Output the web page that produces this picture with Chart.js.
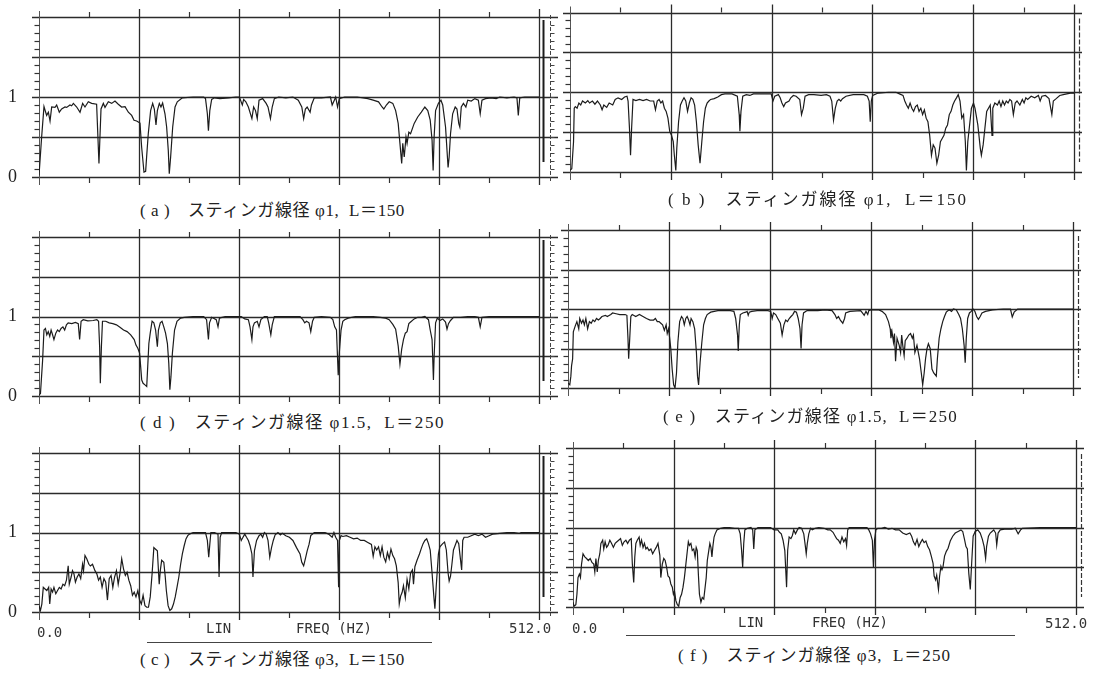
<!DOCTYPE html>
<html><head><meta charset="utf-8">
<script src="https://cdn.jsdelivr.net/npm/chart.js@4/dist/chart.umd.min.js"></script>
<style>
html,body{margin:0;padding:0;background:#fff}
body{width:1099px;height:674px;position:relative;overflow:hidden}
canvas{position:absolute}
.cap{position:absolute;white-space:pre;font:17px "Liberation Serif","Noto Sans CJK JP",serif;color:#222;line-height:22px;letter-spacing:0.6px}
.mono{position:absolute;white-space:pre;font:14px "DejaVu Sans Mono",monospace;color:#333;line-height:16px}
.uline{position:absolute;border-top:1px solid #444;height:0}
</style></head><body>
<script>
// ---------- data (frequency in Hz, coherence 0..1) ----------
const freqA=[0,2.7,5.1,7.8,9.6,11.3,13.0,16.4,18.1,20.8,
23.2,26.6,28.3,31.7,33.4,35.2,38.6,42.0,44.7,47.1,
50.5,53.9,59.0,61.4,63.5,65.9,67.6,71.0,74.4,77.8,
81.2,84.6,88.1,91.5,94.9,97.3,100.0,103.4,105.1,107.5,
109.2,110.2,111.9,114.3,116.4,118.1,119.8,121.2,123.2,124.9,
126.6,129.0,130.7,132.4,133.4,134.8,136.9,139.3,141.6,146.8,
157.8,168.7,170.5,172.4,173.5,174.9,176.8,179.7,185.2,194.3,
201.6,205.2,208.2,209.6,211.8,214.4,218.0,219.8,221.7,223.5,
225.3,229.0,232.6,234.5,237.0,238.8,241.0,245.4,252.7,260.0,
265.5,269.1,271.0,272.8,274.6,277.6,279.0,281.9,289.2,298.4,
300.2,302.4,303.8,305.7,307.5,313.0,325.8,336.7,342.2,347.7,
351.3,353.1,355.7,358.6,362.3,365.2,367.8,369.6,371.4,372.5,
374.0,375.8,376.9,378.7,380.5,384.2,387.8,391.5,395.1,398.1,
400.6,402.5,403.6,404.6,406.1,409.0,411.6,413.4,416.3,418.9,
420.0,421.4,423.6,426.2,428.0,429.8,430.9,432.4,434.6,437.1,
439.0,442.6,446.3,449.9,451.8,453.6,457.2,462.7,468.2,471.8,
479.1,486.4,489.4,490.8,492.3,497.4,501.1,508.4,512];
const cohA=[0.02,0.5,0.88,0.77,0.81,0.70,0.875,0.87,0.90,0.81,
0.85,0.875,0.87,0.90,0.89,0.92,0.875,0.81,0.92,0.875,
0.94,0.92,0.91,0.17,0.85,0.92,0.87,0.94,0.92,0.95,
0.91,0.875,0.88,0.81,0.77,0.71,0.70,0.675,0.375,0.06,
0.07,0.25,0.54,0.83,0.92,0.85,0.65,0.83,0.92,0.875,
0.925,0.79,0.625,0.33,0.04,0.25,0.625,0.875,0.94,0.99,
1.0,1.0,0.98,0.79,0.58,0.83,0.97,0.99,0.98,0.99,
1.0,1.0,0.9,0.97,0.94,0.875,0.73,0.875,0.83,0.73,
0.96,0.98,0.92,0.875,0.73,0.875,0.98,1.0,0.99,1.0,
0.96,0.875,0.73,0.85,0.875,0.81,0.9,0.99,0.99,1.0,
0.9,0.96,1.0,0.875,0.98,1.0,1.0,0.98,0.96,0.94,
0.875,0.85,0.9,0.94,0.92,0.83,0.67,0.42,0.17,0.42,
0.25,0.5,0.42,0.56,0.54,0.67,0.75,0.81,0.875,0.83,
0.71,0.46,0.08,0.5,0.83,0.92,0.96,0.9,0.625,0.12,
0.25,0.54,0.79,0.875,0.85,0.67,0.625,0.875,0.92,0.875,
0.96,0.95,0.98,0.96,0.79,0.96,0.98,0.99,0.98,1.0,
0.99,1.0,0.99,0.77,0.99,1.0,1.0,1.0,1.0];

const freqB=[0,1.8,3.6,4.3,5.4,7.2,9.0,10.9,12.7,15.6,
18.1,19.9,22.8,25.3,27.9,30.8,32.6,34.4,37.3,39.8,
43.4,45.9,48.8,52.5,55.4,57.9,59.0,60.4,61.5,62.6,
64.0,66.9,70.6,74.2,77.8,81.4,85.0,86.8,88.6,90.5,
92.3,94.1,95.9,97.7,99.5,101.3,103.1,104.9,106.0,107.5,
108.5,110.3,112.2,114.0,115.8,117.6,119.4,121.2,123.0,124.8,
126.6,128.4,130.2,132.1,133.9,135.7,137.5,139.3,141.1,142.9,
146.5,150.1,153.8,157.4,164.6,170.0,171.9,172.6,173.7,175.5,
179.1,182.7,186.3,193.6,200.8,204.4,206.2,208.0,211.7,213.5,
215.3,217.1,218.9,222.5,224.3,226.9,229.7,233.4,235.2,237.0,
238.8,242.4,247.8,255.1,260.5,264.1,265.9,267.7,269.5,271.4,
273.2,275.0,276.8,280.4,287.6,298.5,302.1,303.9,305.0,306.1,
307.5,313.0,323.8,331.1,334.7,338.3,340.1,341.9,343.7,345.5,
347.3,349.1,351.0,352.8,354.6,356.4,358.2,360.0,361.8,363.6,
365.4,367.2,369.0,370.8,372.7,374.5,376.3,378.1,379.9,381.7,
383.5,385.3,387.1,388.9,390.7,392.6,394.4,396.2,398.0,399.8,
401.6,402.7,404.1,406.3,407.8,409.9,411.4,414.3,416.8,417.9,
419.7,421.5,423.3,425.1,426.9,428.7,429.5,431.6,434.2,436.0,
437.8,439.6,441.4,443.2,445.0,446.8,448.6,450.4,452.3,454.1,
457.0,459.5,461.3,463.1,464.9,468.5,472.1,475.8,477.6,479.4,
483.0,486.6,489.5,491.0,493.9,497.5,501.1,504.7,508.3,512];
const cohB=[0.02,0.04,0.38,0.80,0.82,0.80,0.865,0.84,0.89,0.865,
0.895,0.865,0.89,0.85,0.89,0.84,0.78,0.84,0.81,0.865,
0.84,0.91,0.93,0.91,0.94,0.95,0.89,0.55,0.21,0.55,
0.91,0.895,0.91,0.895,0.91,0.89,0.89,0.78,0.89,0.91,
0.865,0.89,0.80,0.76,0.675,0.51,0.46,0.38,0.21,0.02,
0.30,0.63,0.84,0.89,0.93,0.89,0.76,0.865,0.93,0.91,
0.84,0.63,0.34,0.11,0.38,0.63,0.80,0.865,0.89,0.91,
0.92,0.94,0.97,0.98,0.98,0.95,0.72,0.51,0.76,0.95,
0.97,0.96,0.98,0.98,0.98,0.98,0.89,0.95,0.97,0.93,
0.865,0.82,0.865,0.89,0.93,0.96,0.95,0.91,0.72,0.80,
0.95,0.97,0.97,0.96,0.97,0.95,0.89,0.65,0.80,0.89,
0.91,0.89,0.92,0.95,0.97,0.97,0.95,0.89,0.63,0.89,
0.96,0.99,1.0,1.0,0.98,0.96,0.89,0.84,0.80,0.865,
0.80,0.76,0.82,0.84,0.76,0.80,0.72,0.78,0.675,0.63,
0.46,0.21,0.34,0.30,0.11,0.21,0.38,0.42,0.46,0.55,
0.59,0.72,0.76,0.84,0.89,0.93,0.97,0.89,0.675,0.72,
0.38,0.02,0.38,0.63,0.80,0.865,0.80,0.59,0.30,0.21,
0.34,0.55,0.76,0.80,0.84,0.46,0.80,0.865,0.84,0.89,
0.82,0.89,0.84,0.89,0.865,0.91,0.89,0.72,0.865,0.89,
0.84,0.91,0.865,0.93,0.91,0.95,0.93,0.96,0.89,0.95,
0.96,0.92,0.72,0.89,0.92,0.96,0.97,0.98,0.99,0.99];

const freqD=[0,1.5,3.7,5.1,6.6,8.0,9.5,11.0,12.4,13.9,
15.3,17.2,19.0,20.8,22.6,24.5,26.3,28.1,29.9,33.6,
37.3,40.2,41.6,43.1,45.3,50.0,55.5,59.2,61.0,62.1,
62.8,63.9,65.0,68.3,71.9,75.6,79.3,82.9,86.6,90.2,
93.9,97.5,99.3,101.2,103.0,104.1,105.2,106.6,108.5,110.3,
111.0,112.5,113.9,115.8,117.6,119.4,121.2,122.3,124.2,126.0,
127.8,129.6,131.5,132.9,134.0,135.1,136.6,138.8,141.3,145.0,
148.6,157.8,168.7,171.6,173.5,174.6,176.8,181.5,183.3,184.8,
190.6,201.6,207.1,210.7,214.4,216.1,218.0,219.1,220.6,223.5,
225.3,227.2,230.8,233.7,235.2,237.4,238.8,241.0,249.1,260.0,
267.3,270.2,272.1,273.9,276.5,278.3,280.1,281.9,289.2,298.4,
300.9,302.8,304.6,306.4,307.5,309.3,311.1,313.0,316.6,323.9,
333.1,342.2,349.5,355.0,358.6,362.3,365.2,367.8,369.6,371.4,
373.2,375.1,376.9,378.7,380.5,384.2,387.8,391.5,395.1,398.8,
400.6,402.5,403.9,404.6,406.1,407.9,410.5,413.4,416.3,417.8,
419.3,421.4,424.4,431.7,439.0,446.3,449.9,451.8,453.6,460.9,
471.8,490.1,508.4,512];
const cohD=[0.01,0.03,0.45,0.83,0.85,0.77,0.81,0.75,0.83,0.77,
0.71,0.79,0.83,0.81,0.85,0.87,0.83,0.895,0.92,0.91,
0.925,0.91,0.71,0.94,0.96,0.945,0.95,0.96,0.94,0.62,
0.16,0.62,0.94,0.94,0.92,0.91,0.895,0.865,0.83,0.81,
0.77,0.71,0.64,0.60,0.54,0.37,0.2,0.16,0.14,0.12,
0.29,0.66,0.79,0.94,0.92,0.83,0.62,0.83,0.92,0.94,
0.87,0.79,0.66,0.41,0.08,0.24,0.54,0.83,0.94,0.98,
0.99,1.0,1.0,0.96,0.71,0.92,0.99,0.96,0.87,0.98,
1.0,1.0,1.0,0.97,0.96,0.87,0.71,0.87,0.92,0.94,
0.87,0.96,1.0,1.0,0.92,0.77,0.895,1.0,1.0,1.0,
1.0,0.96,0.92,0.94,0.92,0.81,0.94,0.99,1.0,0.99,
0.96,0.87,0.83,0.26,0.54,0.83,0.94,0.96,0.98,1.0,
1.0,1.0,0.99,0.98,0.96,0.90,0.84,0.63,0.40,0.59,
0.71,0.79,0.81,0.91,0.93,0.97,0.99,0.99,1.0,0.96,
0.83,0.71,0.20,0.50,0.92,0.98,0.95,0.97,0.93,0.84,
0.91,0.95,0.99,0.99,1.0,1.0,0.99,0.87,0.99,1.0,
1.0,1.0,1.0,1.0];

const freqE=[0,1.8,2.9,3.6,4.7,5.4,7.2,9.0,10.9,11.9,
13.7,15.2,16.6,18.1,19.9,21.7,23.5,25.3,27.1,28.9,
30.8,32.6,34.4,38.0,39.8,43.4,45.2,48.8,52.5,57.9,
59.7,60.8,61.5,62.6,63.7,65.1,68.7,72.4,76.0,79.6,
83.2,86.8,88.6,90.5,92.3,94.1,95.9,97.7,99.5,100.6,
102.0,103.1,104.2,105.6,107.1,108.5,110.0,111.4,113.2,115.1,
116.5,117.9,119.4,120.8,122.3,123.7,124.8,126.6,128.4,130.2,
131.3,132.4,133.9,135.7,137.5,139.3,141.1,144.7,148.3,152.0,
155.6,159.2,164.6,168.2,170.0,171.9,172.6,173.7,174.7,177.3,
180.2,181.6,182.7,183.8,186.3,191.8,202.6,205.5,207.0,208.4,
210.6,212.7,215.3,217.1,218.9,220.7,222.5,224.3,226.1,227.9,
229.7,231.6,233.4,235.2,236.3,237.3,238.8,242.4,253.3,260.5,
267.7,270.6,272.4,274.2,276.1,278.6,280.4,281.5,285.8,296.7,
298.5,300.3,302.1,303.9,305.0,307.5,314.8,318.4,322.0,324.9,
326.7,327.4,328.5,330.0,331.0,332.1,333.6,335.8,337.2,338.3,
339.4,340.8,341.9,343.7,345.5,347.3,349.1,350.2,351.7,353.8,
356.4,358.2,359.6,361.1,362.5,364.0,365.4,367.2,369.0,370.8,
373.4,374.5,376.3,378.1,379.9,381.7,383.5,386.4,388.9,390.7,
393.6,396.2,398.0,399.8,401.6,402.7,403.8,405.2,407.0,408.8,
410.6,412.5,414.3,416.1,417.9,419.7,423.3,430.5,441.4,448.6,
450.4,452.3,455.9,477.6,512];
const cohE=[0.06,0.04,0.15,0.28,0.37,0.71,0.78,0.84,0.75,0.88,
0.82,0.86,0.80,0.88,0.75,0.84,0.82,0.86,0.84,0.88,
0.86,0.88,0.905,0.92,0.905,0.93,0.95,0.94,0.93,0.93,
0.92,0.63,0.37,0.63,0.905,0.93,0.905,0.93,0.905,0.88,
0.86,0.86,0.88,0.84,0.84,0.82,0.80,0.73,0.80,0.69,
0.75,0.63,0.50,0.24,0.04,0.0,0.19,0.58,0.84,0.905,
0.88,0.80,0.88,0.905,0.86,0.80,0.88,0.84,0.75,0.45,
0.15,0.04,0.32,0.58,0.80,0.88,0.93,0.96,0.97,0.98,
0.98,0.98,0.98,0.97,0.88,0.67,0.47,0.80,0.93,0.95,
0.96,0.97,0.92,0.96,0.97,0.98,0.98,0.97,0.88,0.95,
0.93,0.88,0.82,0.67,0.80,0.86,0.84,0.88,0.905,0.93,
0.97,0.96,0.88,0.75,0.50,0.80,0.95,0.98,0.98,0.99,
0.98,0.93,0.88,0.905,0.86,0.82,0.88,0.95,0.97,0.98,
0.95,0.92,0.97,0.93,0.98,0.99,0.99,0.97,0.93,0.84,
0.75,0.63,0.71,0.58,0.69,0.34,0.63,0.54,0.45,0.67,
0.54,0.41,0.60,0.63,0.67,0.69,0.63,0.67,0.45,0.54,
0.37,0.19,0.04,0.19,0.37,0.50,0.56,0.50,0.24,0.19,
0.15,0.37,0.63,0.75,0.84,0.905,0.96,0.99,0.97,1.0,
0.99,0.93,0.88,0.75,0.54,0.32,0.63,0.88,0.95,0.97,
1.0,0.97,0.905,0.87,0.905,0.95,0.97,0.99,1.0,1.0,
0.90,0.96,1.0,1.0,1.0];

const freqC=[0,1.5,2.9,4.4,6.2,8.0,9.9,11.0,12.4,13.9,
15.3,17.2,19.0,20.8,22.6,24.5,26.3,28.1,29.9,31.0,
32.9,34.3,35.8,37.3,39.1,40.9,42.7,44.6,45.6,47.1,
48.9,51.1,52.6,54.8,57.3,59.2,61.0,62.8,64.6,66.5,
68.3,70.1,71.9,73.8,75.6,77.4,79.3,81.1,82.9,84.7,
86.6,88.4,90.2,92.0,93.9,95.7,97.5,99.3,101.2,103.0,
104.8,106.6,108.5,110.3,112.1,113.9,115.8,117.6,119.4,121.2,
123.1,124.2,125.6,127.8,129.3,130.4,132.2,134.0,135.9,137.7,
139.5,141.3,143.2,145.0,146.8,148.6,150.5,152.3,154.1,157.8,
161.4,166.9,170.5,172.4,173.8,174.9,176.0,179.7,183.3,184.4,
185.5,187.0,194.3,201.6,205.2,207.1,208.9,210.7,212.5,214.4,
216.2,218.0,219.1,220.6,222.8,225.3,227.2,229.0,230.8,232.6,
234.5,236.3,238.1,239.9,241.8,244.7,247.2,249.1,252.7,256.4,
260.0,263.7,267.3,269.1,271.0,272.8,274.6,276.5,278.3,281.9,
285.6,289.2,292.9,296.5,300.2,302.0,303.8,305.7,306.8,307.5,
309.3,311.1,314.8,318.5,322.1,325.8,329.4,333.1,336.7,340.4,
342.2,344.0,345.8,347.7,349.5,351.3,353.1,355.0,356.8,358.6,
360.4,362.3,364.1,365.9,367.8,368.9,370.3,371.8,373.2,375.1,
376.9,378.7,380.5,382.4,383.5,384.9,387.1,389.6,391.5,393.3,
395.1,397.0,398.8,400.6,402.5,404.3,405.4,406.8,409.0,410.5,
413.4,415.3,417.1,418.9,420.0,421.4,422.9,424.4,426.2,428.0,
429.8,431.7,432.8,433.9,435.3,439.0,442.6,446.3,449.9,453.6,
457.2,460.9,464.5,471.8,479.1,486.4,491.9,493.7,501.0,512];
const cohC=[0.08,0.02,0.10,0.31,0.29,0.27,0.31,0.10,0.29,0.25,
0.31,0.23,0.27,0.31,0.29,0.35,0.33,0.40,0.58,0.35,
0.44,0.52,0.48,0.375,0.44,0.48,0.42,0.60,0.52,0.71,
0.67,0.60,0.58,0.60,0.52,0.48,0.40,0.44,0.31,0.42,
0.375,0.15,0.42,0.46,0.31,0.44,0.52,0.35,0.48,0.67,
0.54,0.46,0.50,0.40,0.33,0.21,0.25,0.19,0.27,0.15,
0.10,0.21,0.08,0.06,0.06,0.19,0.48,0.81,0.79,0.77,
0.35,0.52,0.65,0.625,0.44,0.27,0.08,0.02,0.04,0.10,
0.19,0.31,0.44,0.60,0.73,0.83,0.92,0.96,0.98,1.0,
1.0,1.0,1.0,0.90,0.69,0.85,1.0,1.0,0.98,0.44,
0.94,1.0,1.0,1.0,0.98,0.90,0.94,0.98,0.94,0.90,
0.83,0.73,0.44,0.77,0.90,0.96,0.98,0.94,1.0,0.98,
0.90,0.69,0.81,0.90,0.97,1.0,0.97,0.99,0.96,0.94,
0.90,0.81,0.73,0.625,0.58,0.67,0.77,0.85,0.96,1.0,
1.0,1.0,1.0,0.98,0.94,1.0,0.94,0.90,0.31,0.90,
0.96,0.95,0.96,0.94,0.92,0.93,0.90,0.90,0.875,0.85,
0.70,0.82,0.78,0.82,0.71,0.82,0.69,0.63,0.75,0.67,
0.79,0.71,0.67,0.58,0.37,0.10,0.20,0.245,0.33,0.18,
0.41,0.29,0.49,0.53,0.35,0.57,0.65,0.73,0.80,0.86,
0.90,0.92,0.86,0.78,0.49,0.20,0.04,0.33,0.73,0.82,
0.86,0.88,0.78,0.49,0.39,0.45,0.61,0.78,0.84,0.90,
0.86,0.65,0.53,0.90,0.94,0.94,0.96,0.98,0.96,0.98,
0.94,0.96,0.98,0.99,1.0,1.0,0.99,1.0,1.0,1.0];

const freqF=[0,1.1,2.9,4.0,5.1,6.5,7.6,8.7,10.2,12.0,
13.8,15.6,17.5,19.3,21.1,22.2,23.3,24.7,25.8,27.3,
28.4,30.2,31.3,32.7,34.2,35.6,37.5,39.3,41.1,42.9,
44.7,46.5,48.4,50.2,52.0,53.8,55.6,57.4,59.3,60.4,
61.8,62.9,64.0,65.4,67.3,68.4,69.8,71.3,72.7,74.2,
75.6,77.4,79.3,81.1,82.9,84.7,86.5,88.4,89.4,90.9,
92.4,93.8,95.3,96.7,98.2,99.6,101.1,102.2,103.3,104.7,
106.2,107.6,109.1,110.5,112.0,113.4,114.9,116.4,117.4,118.5,
120.0,121.4,122.9,124.3,125.4,126.5,127.6,128.7,130.2,131.6,
133.1,134.5,135.6,136.7,138.2,139.3,140.4,141.4,142.5,143.6,
144.7,146.5,150.2,153.8,159.3,164.7,168.4,170.2,171.6,172.7,
173.8,174.9,177.4,181.1,182.9,184.0,185.1,188.3,195.6,201.1,
204.7,208.4,210.2,212.0,213.8,215.6,217.4,218.5,220.0,221.8,
223.3,224.7,226.5,228.4,230.2,232.7,234.9,236.4,237.4,238.5,
240.0,241.8,243.6,246.5,250.2,255.6,259.3,261.8,264.7,266.5,
268.3,270.2,272.0,273.8,275.6,277.4,278.5,279.6,281.1,286.5,
293.8,299.2,301.1,302.9,304.7,305.8,306.9,308.3,310.2,313.8,
317.4,321.1,324.7,328.3,332.0,335.6,339.2,342.9,344.7,346.5,
348.3,350.2,352.0,353.8,355.6,357.4,359.2,361.1,362.9,364.7,
366.5,367.6,369.1,370.2,372.0,373.1,374.5,375.6,376.7,378.2,
380.0,381.8,384.0,386.5,389.1,392.0,394.9,396.7,398.5,400.0,
401.4,402.9,404.4,405.8,407.3,409.4,412.0,414.5,416.7,418.5,
420.0,421.0,422.9,424.7,426.5,428.3,430.2,431.3,432.7,434.9,
439.2,446.5,450.2,453.1,455.6,457.4,475.6,493.8,512];
const cohF=[0.06,0.01,0.03,0.16,0.37,0.415,0.37,0.54,0.67,0.63,
0.61,0.585,0.61,0.56,0.54,0.44,0.61,0.44,0.585,0.67,
0.80,0.84,0.73,0.82,0.75,0.775,0.84,0.80,0.75,0.80,
0.82,0.84,0.86,0.775,0.82,0.84,0.80,0.84,0.86,0.54,
0.31,0.63,0.80,0.84,0.88,0.775,0.84,0.75,0.80,0.73,
0.75,0.71,0.73,0.67,0.71,0.75,0.80,0.65,0.37,0.54,
0.61,0.585,0.50,0.39,0.37,0.29,0.25,0.16,0.20,0.08,
0.03,0.01,0.12,0.16,0.25,0.37,0.54,0.71,0.82,0.775,
0.80,0.71,0.73,0.63,0.75,0.71,0.415,0.16,0.06,0.12,
0.10,0.25,0.37,0.585,0.71,0.80,0.75,0.63,0.775,0.88,
0.92,0.97,0.99,1.0,1.0,0.99,0.99,0.92,0.71,0.50,
0.80,0.97,0.99,1.0,0.97,0.73,0.97,1.0,1.0,1.0,
0.97,0.97,0.94,0.92,0.84,0.71,0.25,0.71,0.88,0.86,
0.90,0.97,0.92,0.97,1.0,0.99,0.92,0.775,0.67,0.80,
0.92,0.99,0.97,0.99,1.0,0.99,0.97,0.97,0.94,0.90,
0.86,0.84,0.80,0.88,0.82,0.86,0.775,0.97,1.0,1.0,
1.0,1.0,0.97,0.92,0.84,0.50,0.84,0.97,0.99,0.99,
1.0,0.98,0.99,0.97,0.97,0.93,0.91,0.93,0.89,0.82,
0.78,0.85,0.76,0.81,0.85,0.81,0.83,0.76,0.72,0.64,
0.55,0.39,0.34,0.40,0.22,0.38,0.51,0.47,0.51,0.64,
0.70,0.74,0.83,0.89,0.93,0.95,0.97,0.95,0.85,0.76,
0.73,0.42,0.22,0.55,0.89,0.95,0.97,0.93,0.85,0.76,
0.61,0.76,0.89,0.93,0.95,0.97,0.93,0.78,0.93,0.97,
0.98,0.98,0.99,0.92,0.97,0.99,1.0,1.0,1.0];

// axis ticks / labels
const xGridValues=[0,102.4,204.8,307.2,409.6,512];
const xMinorValues=[51.2,153.6,256,358.4,460.8];
const yGridValues=[0,0.5,1,1.5,2];
const yLabelValues=[0,1];
const yLabelTexts=['0','1'];
const xEndLabels=['0.0','512.0'];
const xAxisWords=['LIN','FREQ (HZ)'];
const captions=['( a )　スティンガ線径 φ1,  L＝150','( b )　スティンガ線径 φ1,  L＝150',
'( d )　スティンガ線径 φ1.5,  L＝250','( e )　スティンガ線径 φ1.5,  L＝250',
'( c )　スティンガ線径 φ3,  L＝150','( f )　スティンガ線径 φ3,  L＝250'];

// ---------- layout (page pixels) ----------
const INK='#1c1c1c';
const panels=[
 {freq:freqA,coh:cohA,L:39,R:539,T:17,B:177,side:'left',cap:0,capX:140,capY:211,capW:265},
 {freq:freqB,coh:cohB,L:570,R:1074,T:12.5,B:172,side:'right',cap:1,capX:668,capY:200,capW:300},
 {freq:freqD,coh:cohD,L:39,R:539,T:237,B:396,side:'left',cap:2,capX:140,capY:423,capW:305},
 {freq:freqE,coh:cohE,L:568,R:1073,T:230,B:388,side:'right',cap:3,capX:663,capY:417,capW:295},
 {freq:freqC,coh:cohC,L:39,R:539,T:453,B:612,side:'left',cap:4,capX:140,capY:660,capW:265,bottom:true},
 {freq:freqF,coh:cohF,L:573,R:1076,T:448,B:607,side:'right',cap:5,capX:678,capY:656,capW:273,bottom:true}
];

const framePlugin={
 id:'frame',
 beforeDatasetsDraw(chart){
  const o=chart.options.plugins.frame;
  const {ctx,scales:{x,y}}=chart;
  const xl=x.getPixelForValue(0), xr=x.getPixelForValue(512);
  const yt=y.getPixelForValue(2), yb=y.getPixelForValue(0);
  const r=v=>Math.round(v)+0.5;
  const seg=(x1,y1,x2,y2)=>{ctx.beginPath();ctx.moveTo(x1,y1);ctx.lineTo(x2,y2);ctx.stroke();};
  ctx.save();
  ctx.strokeStyle='#2b2b2b'; ctx.lineWidth=1.3;
  yGridValues.forEach(v=>{const p=r(y.getPixelForValue(v)); seg(xl-7,p,xr+o.extR,p);});
  xGridValues.forEach(f=>{ if(f===0) return; const p=r(x.getPixelForValue(f)); seg(p,yt-8,p,yb+8);});
  // left axis with minor ticks
  ctx.strokeStyle='#555'; ctx.lineWidth=1;
  const pl=r(xl);
  seg(pl,yt-6,pl,yb+8);
  ctx.strokeStyle='#333'; ctx.lineWidth=1.2;
  for(let k=1;k<20;k++){ if(k%5===0) continue; const p=r(y.getPixelForValue(k/10)); seg(pl-5,p,pl,p);}
  xMinorValues.forEach(f=>{const p=r(x.getPixelForValue(f)); seg(p,yb,p,yb+6); seg(p,yt-5,p,yt);});
  if(o.side==='left'){
    ctx.strokeStyle=INK; ctx.lineWidth=2;
    seg(r(xr)+4,yt+3,r(xr)+4,yb-15);
    ctx.strokeStyle='#444'; ctx.lineWidth=1; ctx.setLineDash([4,2]);
    seg(r(xr)+11,yt-2,r(xr)+11,yb+4); ctx.setLineDash([]);
    for(let k=1;k<20;k++){ const p=r(y.getPixelForValue(k/10)); seg(r(xr)+11,p,r(xr)+15,p);}
    // y labels "1" and "0"
    ctx.fillStyle='#222'; ctx.font='18px "Liberation Serif"';
    ctx.textAlign='right'; ctx.textBaseline='middle';
    yLabelValues.forEach((v,k)=>ctx.fillText(yLabelTexts[k], xl-22, y.getPixelForValue(v)));
  } else {
    ctx.strokeStyle='#333'; ctx.lineWidth=1.2; ctx.setLineDash([5,2]);
    seg(r(xr)+5,yt+6,r(xr)+5,yb-10); ctx.setLineDash([]);
  }
  ctx.restore();
 }
};

panels.forEach((p,i)=>{
  const cx = p.side==='left'?0:552;
  const cw = p.side==='left'?568:547;
  const cy = Math.floor(p.T)-16;
  const ch = Math.ceil(p.B)-cy+16;
  const cv=document.createElement('canvas');
  cv.width=cw; cv.height=ch;
  cv.style.left=cx+'px'; cv.style.top=cy+'px';
  cv.style.width=cw+'px'; cv.style.height=ch+'px';
  document.body.appendChild(cv);
  new Chart(cv,{
    type:'line',
    data:{datasets:[{
      data:p.freq.map((f,j)=>({x:f,y:p.coh[j]})),
      borderColor:INK,borderWidth:1.2,pointRadius:0,tension:0,fill:false
    }]},
    options:{
      responsive:false,animation:false,events:[],
      layout:{padding:{left:p.L-cx,right:cx+cw-p.R,top:p.T-cy,bottom:cy+ch-p.B}},
      plugins:{legend:{display:false},tooltip:{enabled:false},
        frame:{side:p.side,extR:p.side==='left'?19:8}},
      scales:{
        x:{type:'linear',min:0,max:512,display:false},
        y:{type:'linear',min:0,max:2,display:false}
      }
    },
    plugins:[framePlugin]
  });
  const c=document.createElement('div');
  c.className='cap'; c.textContent=captions[p.cap];
  c.style.left=p.capX+'px'; c.style.top=(p.capY-11)+'px';
  document.body.appendChild(c);
  const w=c.getBoundingClientRect().width;
  const n=captions[p.cap].length;
  c.style.letterSpacing=(0.6+(p.capW-w)/n).toFixed(2)+'px';
  if(p.bottom){
    const lab=(t,x,y)=>{const d=document.createElement('div');d.className='mono';d.textContent=t;d.style.left=x+'px';d.style.top=(y-8)+'px';document.body.appendChild(d);};
    if(p.side==='left'){
      lab(xEndLabels[0],37,632); lab(xAxisWords[0],206,628); lab(xAxisWords[1],296,628); lab(xEndLabels[1],509,628);
      const u=document.createElement('div');u.className='uline';u.style.left='147px';u.style.top='642px';u.style.width='285px';document.body.appendChild(u);
    } else {
      lab(xEndLabels[0],572,628); lab(xAxisWords[0],738,622); lab(xAxisWords[1],812,622); lab(xEndLabels[1],1045,623);
      const u=document.createElement('div');u.className='uline';u.style.left='626px';u.style.top='635px';u.style.width='389px';document.body.appendChild(u);
    }
  }
});
</script>
</body></html>
